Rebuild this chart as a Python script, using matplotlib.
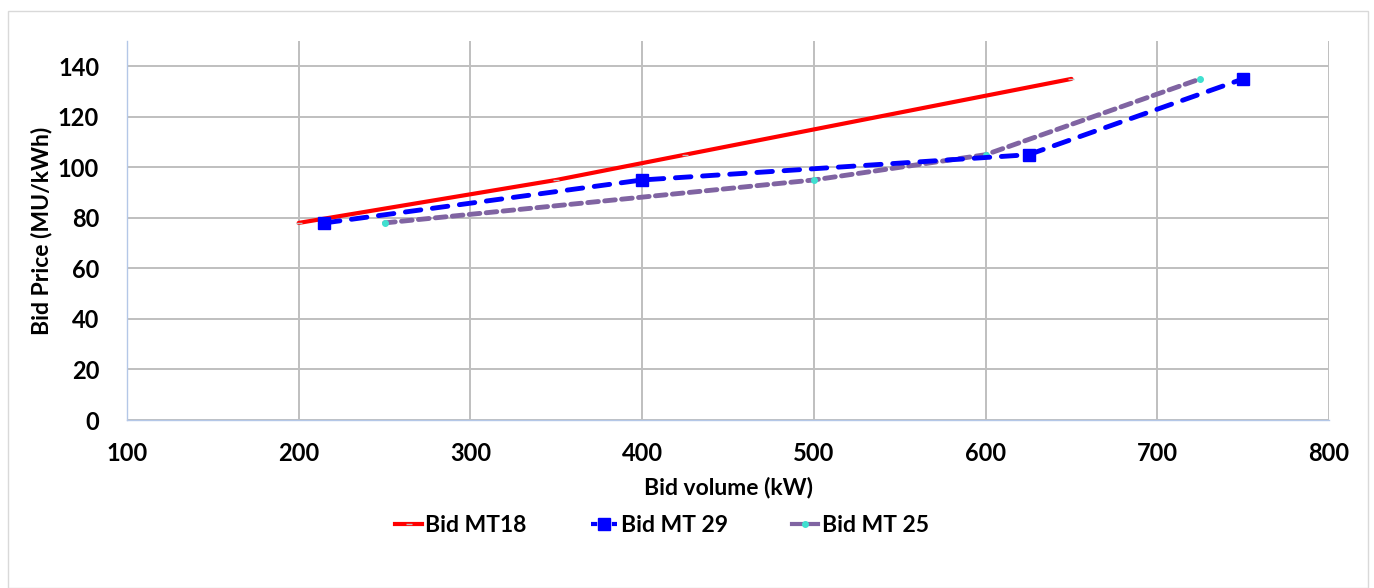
import matplotlib
matplotlib.use("Agg")
import matplotlib.pyplot as plt
from matplotlib.patches import Rectangle
from matplotlib.lines import Line2D

plt.rcParams['font.family'] = ['Lato', 'DejaVu Sans']
plt.rcParams['font.weight'] = 'bold'

# Bid curves: volume (kW) vs price (MU/kWh)
mt18_volume = [200, 350, 425, 650]
mt18_price = [78, 95, 105, 135]

mt29_volume = [215, 400, 625, 750]
mt29_price = [78, 95, 105, 135]

mt25_volume = [250, 500, 600, 725]
mt25_price = [78, 95, 105, 135]

series_labels = ["Bid MT18", "Bid MT 29", "Bid MT 25"]
x_ticks = [100, 200, 300, 400, 500, 600, 700, 800]
y_ticks = [0, 20, 40, 60, 80, 100, 120, 140]

W, H = 1374, 588
fig = plt.figure(figsize=(W / 100, H / 100), dpi=100)
fig.patch.set_facecolor('white')

# outer chart border
fig.add_artist(Rectangle((8 / W, 0), (1368 - 8) / W, 1 - 11 / H,
                         transform=fig.transFigure, fill=False,
                         edgecolor='#D9D9D9', linewidth=1.0))

ax = fig.add_axes([127 / W, 1 - 420 / H, (1329 - 127) / W, (420 - 41) / H])
ax.set_xlim(100, 800)
ax.set_ylim(0, 150)
ax.set_xticks(x_ticks)
ax.set_yticks(y_ticks)

ax.grid(True, color='#BFBFBF', linewidth=1.4)
ax.set_axisbelow(True)
for side in ['top', 'right']:
    ax.spines[side].set_visible(False)
for side in ['left', 'bottom']:
    ax.spines[side].set_color('#B4C7E7')
    ax.spines[side].set_linewidth(1.0)
ax.tick_params(length=0, labelsize=17)
ax.tick_params(axis='y', pad=20)
ax.tick_params(axis='x', pad=16)
for lbl in ax.get_xticklabels() + ax.get_yticklabels():
    lbl.set_fontweight('bold')

ax.plot(mt18_volume, mt18_price, color='#FF0000', linewidth=3,
        marker='_', markersize=5, markeredgecolor='#BFBFBF',
        solid_capstyle='round', zorder=3)
ax.plot(mt29_volume, mt29_price, color='#0000FF', linewidth=3.5,
        linestyle=(0, (3.2, 2.4)), dash_capstyle='round',
        marker='s', markersize=8, zorder=4)
ax.plot(mt25_volume, mt25_price, color='#8064A2', linewidth=3.5,
        linestyle=(0, (2.2, 1.3)), dash_capstyle='round',
        marker='o', markersize=4, markerfacecolor='#40E0D0',
        markeredgecolor='#40E0D0', zorder=3)

ax.set_xlabel("Bid volume (kW)", fontsize=16.5, fontweight='bold', labelpad=8)
ax.set_ylabel("Bid Price (MU/kWh)", fontsize=16.5, fontweight='bold', labelpad=4)

handles = [
    Line2D([], [], color='#FF0000', linewidth=3, marker='_',
           markeredgecolor='#BFBFBF', markersize=5),
    Line2D([], [], color='#0000FF', linewidth=3, linestyle=(0, (1.5, 1)),
           marker='s', markersize=8),
    Line2D([], [], color='#8064A2', linewidth=3, marker='o', markersize=4,
           markerfacecolor='#40E0D0', markeredgecolor='#40E0D0'),
]
fig.legend(handles, series_labels, loc='center', ncol=3,
           bbox_to_anchor=(662 / W, 1 - 526 / H), frameon=False,
           prop={'size': 16.5, 'weight': 'bold'}, handlelength=1.15,
           handletextpad=0.15, columnspacing=2.8)

fig.savefig("out.png", dpi=100)
